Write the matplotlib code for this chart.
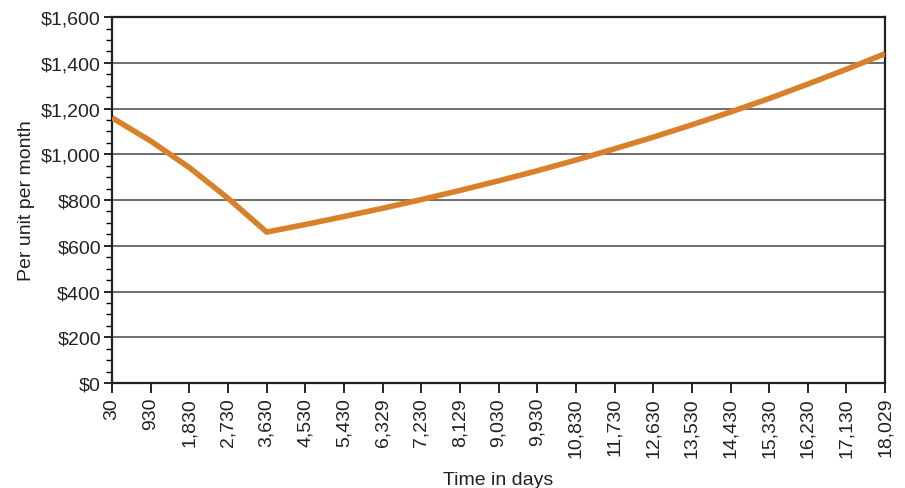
import matplotlib
matplotlib.use("Agg")
import matplotlib.pyplot as plt
from matplotlib.ticker import FuncFormatter, MultipleLocator

plt.rcParams["font.family"] = ["Liberation Sans", "DejaVu Sans"]

# Elapsed time (days) and cost per unit per month (USD)
days = [30, 930, 1830, 2730, 3630, 4530, 5430, 6329, 7230, 8129, 9030,
        9930, 10830, 11730, 12630, 13530, 14430, 15330, 16230, 17130, 18029]
cost = [1160, 1058, 942, 808, 660, 693, 728, 764, 802, 842, 884,
        928, 975, 1024, 1075, 1129, 1185, 1244, 1307, 1372, 1440]

tick_labels = [f"{d:,}" for d in days]

fig = plt.figure(figsize=(9.05, 4.89), dpi=100)
ax = fig.add_axes([0.1238, 0.2147, 0.8542, 0.7483])

ax.plot(days, cost, color="#D9802B", lw=4, solid_joinstyle="round",
        solid_capstyle="butt", zorder=3)

ax.set_xlim(days[0], days[-1])
ax.set_ylim(0, 1600)

ax.yaxis.set_major_locator(MultipleLocator(200))
ax.yaxis.set_minor_locator(MultipleLocator(50))
ax.yaxis.set_major_formatter(FuncFormatter(lambda v, p: f"${v:,.0f}"))
ax.grid(axis="y", which="major", color="#555555", lw=1.2, zorder=1)

ax.set_xticks(days)
ax.set_xticklabels(tick_labels, rotation=90, fontsize=14, color="#222222")
ax.tick_params(axis="y", which="major", length=6, width=1.2,
               labelsize=14, labelcolor="#222222", direction="out", pad=2)
ax.tick_params(axis="y", which="minor", length=4, width=1.0, direction="out")
ax.tick_params(axis="x", which="major", length=7, width=1.2, direction="out", pad=3)

for s in ax.spines.values():
    s.set_linewidth(1.6)
    s.set_color("#222222")

ax.set_ylabel("Per unit per month", fontsize=14, color="#222222", labelpad=4)
ax.set_xlabel("Time in days", fontsize=14, color="#222222", labelpad=10)

fig.savefig("out.png", dpi=100)
